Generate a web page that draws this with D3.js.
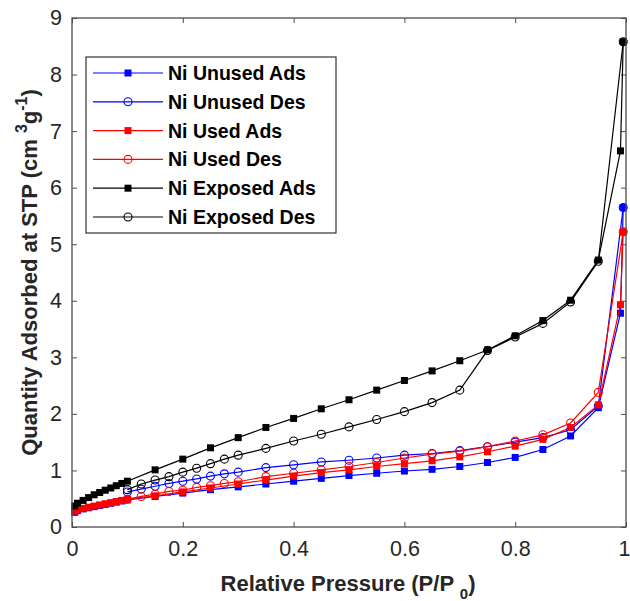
<!DOCTYPE html>
<html>
<head>
<meta charset="utf-8">
<script src="https://cdn.jsdelivr.net/npm/d3@7"></script>
<style>
  html, body { margin: 0; padding: 0; background: #fff; }
  svg { display: block; font-family: "Liberation Sans", Arial, sans-serif; }
</style>
</head>
<body>
<svg id="chart" width="630" height="601"></svg>
<script>
// Relative pressure points for the adsorption and desorption branches
const adsP = [0.005, 0.01, 0.02, 0.03, 0.04, 0.05, 0.06, 0.07, 0.08, 0.09, 0.1,
  0.15, 0.2, 0.25, 0.3, 0.35, 0.4, 0.45, 0.5, 0.55, 0.6, 0.65, 0.7, 0.75, 0.8,
  0.85, 0.9, 0.95, 0.99, 0.995];
const desP = [0.995, 0.95, 0.9, 0.85, 0.8, 0.75, 0.7, 0.65, 0.6, 0.55, 0.5, 0.45,
  0.4, 0.35, 0.3, 0.275, 0.25, 0.225, 0.2, 0.175, 0.15, 0.125, 0.1];

// Quantity adsorbed (cm3/g)
const unusedAds = [0.26, 0.29, 0.32, 0.34, 0.36, 0.38, 0.40, 0.42, 0.44, 0.46, 0.48,
  0.54, 0.60, 0.66, 0.71, 0.76, 0.81, 0.86, 0.91, 0.95, 0.99, 1.02, 1.07, 1.14, 1.23,
  1.37, 1.61, 2.11, 3.78, 5.65];
const unusedDes = [5.65, 2.14, 1.72, 1.58, 1.50, 1.42, 1.35, 1.30, 1.27, 1.22, 1.18, 1.15,
  1.10, 1.05, 0.97, 0.94, 0.90, 0.85, 0.81, 0.77, 0.72, 0.67, 0.62];
const usedAds = [0.28, 0.30, 0.33, 0.35, 0.37, 0.39, 0.41, 0.43, 0.45, 0.47, 0.49,
  0.55, 0.62, 0.69, 0.76, 0.83, 0.90, 0.96, 1.01, 1.07, 1.12, 1.17, 1.24, 1.33, 1.43,
  1.55, 1.76, 2.16, 3.93, 5.22];
const usedDes = [5.22, 2.38, 1.84, 1.63, 1.52, 1.42, 1.34, 1.29, 1.22, 1.14, 1.07, 1.01,
  0.95, 0.89, 0.80, 0.77, 0.73, 0.70, 0.65, 0.63, 0.58, 0.54, 0.49];
const exposedAds = [0.37, 0.42, 0.47, 0.52, 0.57, 0.61, 0.65, 0.69, 0.73, 0.77, 0.81,
  1.01, 1.20, 1.40, 1.58, 1.76, 1.92, 2.09, 2.25, 2.42, 2.59, 2.76, 2.94, 3.13, 3.38,
  3.65, 4.01, 4.72, 6.65, 8.58];
const exposedDes = [8.58, 4.70, 3.98, 3.60, 3.36, 3.12, 2.42, 2.20, 2.04, 1.90, 1.77, 1.64,
  1.52, 1.39, 1.27, 1.20, 1.12, 1.04, 0.97, 0.89, 0.83, 0.76, 0.66];

const xTicks = [0, 0.2, 0.4, 0.6, 0.8, 1];
const xTickLabels = ["0", "0.2", "0.4", "0.6", "0.8", "1"];
const yTicks = [0, 1, 2, 3, 4, 5, 6, 7, 8, 9];

const series = [
  { name: "Ni Unused Ads",  p: adsP, v: unusedAds,  color: "#0000ff", marker: "square" },
  { name: "Ni Unused Des",  p: desP, v: unusedDes,  color: "#0000ff", marker: "circle" },
  { name: "Ni Used Ads",    p: adsP, v: usedAds,    color: "#ff0000", marker: "square" },
  { name: "Ni Used Des",    p: desP, v: usedDes,    color: "#ff0000", marker: "circle" },
  { name: "Ni Exposed Ads", p: adsP, v: exposedAds, color: "#000000", marker: "square" },
  { name: "Ni Exposed Des", p: desP, v: exposedDes, color: "#000000", marker: "circle" }
];

const svg = d3.select("#chart");
const L = 72, R = 626, T = 18, B = 527;

const x = d3.scaleLinear().domain([0, 1]).range([L, R]);
const y = d3.scaleLinear().domain([0, 9]).range([B, T]);

const axisColor = "#4d4d4d";
const tickColor = "#262626";
const fontFam = "Liberation Sans, Arial, sans-serif";

// Ticks pointing inward on all four sides
svg.append("g").attr("transform", `translate(0,${B})`)
  .call(d3.axisBottom(x).tickValues(xTicks).tickSizeInner(-5).tickSizeOuter(0)
    .tickFormat((d, i) => xTickLabels[i]).tickPadding(14))
  .call(g => g.select(".domain").remove())
  .call(g => g.selectAll("line").attr("stroke", axisColor))
  .call(g => g.selectAll("text").attr("font-size", 21.5).attr("fill", tickColor)
    .attr("font-family", fontFam))
  // keep the last label inside the page edge
  .call(g => g.selectAll("text").filter(d => d === 1).attr("dx", -2));

svg.append("g").attr("transform", `translate(0,${T})`)
  .call(d3.axisTop(x).tickValues(xTicks).tickSizeInner(-5).tickSizeOuter(0).tickFormat(""))
  .call(g => g.select(".domain").remove())
  .call(g => g.selectAll("line").attr("stroke", axisColor));

svg.append("g").attr("transform", `translate(${L},0)`)
  .call(d3.axisLeft(y).tickValues(yTicks).tickSizeInner(-5).tickSizeOuter(0)
    .tickFormat(d3.format("d")).tickPadding(10))
  .call(g => g.select(".domain").remove())
  .call(g => g.selectAll("line").attr("stroke", axisColor))
  .call(g => g.selectAll("text").attr("font-size", 21.5).attr("fill", tickColor)
    .attr("font-family", fontFam));

svg.append("g").attr("transform", `translate(${R},0)`)
  .call(d3.axisRight(y).tickValues(yTicks).tickSizeInner(-5).tickSizeOuter(0).tickFormat(""))
  .call(g => g.select(".domain").remove())
  .call(g => g.selectAll("line").attr("stroke", axisColor));

// Data lines and markers
const line = d3.line().x(d => x(d[0])).y(d => y(d[1]));

function drawMarker(g, type, cx, cy, color) {
  if (type === "square") {
    g.append("rect").attr("x", cx - 3.5).attr("y", cy - 3.5)
      .attr("width", 7).attr("height", 7).attr("fill", color);
  } else {
    g.append("circle").attr("cx", cx).attr("cy", cy).attr("r", 4)
      .attr("fill", "none").attr("stroke", color).attr("stroke-width", 1.1);
  }
}

const plot = svg.append("g");
series.forEach(s => {
  const pts = s.p.map((p, i) => [p, s.v[i]]);
  const g = plot.append("g");
  g.append("path").datum(pts).attr("d", line)
    .attr("fill", "none").attr("stroke", s.color).attr("stroke-width", 1.2);
  pts.forEach(d => drawMarker(g, s.marker, x(d[0]), y(d[1]), s.color));
});

// Frame
svg.append("rect").attr("x", L).attr("y", T).attr("width", R - L).attr("height", B - T)
  .attr("fill", "none").attr("stroke", axisColor).attr("stroke-width", 1.3);

// Legend
const leg = svg.append("g");
leg.append("rect").attr("x", 86).attr("y", 57).attr("width", 250).attr("height", 176)
  .attr("fill", "#fff").attr("stroke", "#333").attr("stroke-width", 1.2);
series.forEach((s, i) => {
  const ly = 73 + i * 28.8;
  leg.append("line").attr("x1", 93).attr("x2", 163).attr("y1", ly).attr("y2", ly)
    .attr("stroke", s.color).attr("stroke-width", 1.2);
  drawMarker(leg, s.marker, 128, ly, s.color);
  leg.append("text").attr("x", 168).attr("y", ly).attr("dy", "0.36em")
    .attr("font-size", 19.5).attr("font-weight", "bold").attr("fill", "#000")
    .text(s.name);
});

// Axis titles
const xt = svg.append("text").attr("x", 348).attr("y", 591)
  .attr("text-anchor", "middle").attr("font-size", 22).attr("font-weight", "bold")
  .attr("fill", "#262626");
xt.append("tspan").text("Relative Pressure (P/P ");
xt.append("tspan").attr("dy", 8).attr("font-size", 15).text("0");
xt.append("tspan").attr("dy", -8).text(")");

const yt = svg.append("text")
  .attr("transform", `translate(37,${(T + B) / 2}) rotate(-90)`)
  .attr("text-anchor", "middle").attr("font-size", 22).attr("font-weight", "bold")
  .attr("fill", "#262626");
yt.append("tspan").text("Quantity Adsorbed at STP (cm  ");
yt.append("tspan").attr("dy", -10).attr("font-size", 16).text("3");
yt.append("tspan").attr("dy", 10).text("g");
yt.append("tspan").attr("dy", -10).attr("font-size", 16).text("-1");
yt.append("tspan").attr("dy", 10).text(")");
</script>
</body>
</html>
